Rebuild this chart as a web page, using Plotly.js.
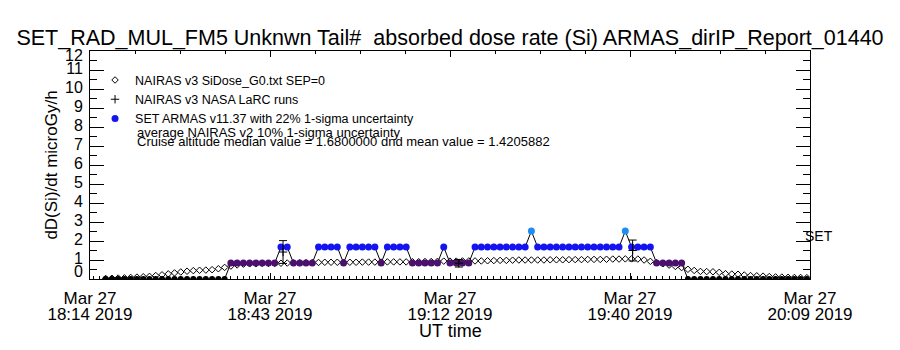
<!DOCTYPE html>
<html><head><meta charset="utf-8">
<script src="https://cdn.plot.ly/plotly-3.0.1.min.js"></script>
<style>html,body{margin:0;padding:0;background:#fff}#chart{width:900px;height:350px}</style>
</head><body><div id="chart"></div>
<script>
const day = "2019-03-27";

// Sample times (UT, HH:MM)
const sampleTimes = ("18:17 18:18 18:19 18:20 18:21 18:22 18:23 18:24 18:25 18:26 18:27 18:28 18:29 18:30 18:31 18:32 18:33 18:34 18:35 18:36 18:37 18:38 18:39 18:40 18:41 18:42 18:43 18:44 18:45 18:46 18:47 18:48 18:49 18:50 18:51 18:52 18:53 18:54 18:55 18:56 18:57 18:58 18:59 " +
  "19:00 19:01 19:02 19:03 19:04 19:05 19:06 19:07 19:08 19:09 19:10 19:11 19:12 19:13 19:14 19:15 19:16 19:17 19:18 19:19 19:20 19:21 19:22 19:23 19:24 19:25 19:26 19:27 19:28 19:29 " +
  "19:30 19:31 19:32 19:33 19:34 19:35 19:36 19:37 19:38 19:39 19:40 19:41 19:42 19:43 19:44 19:45 19:46 19:47 19:48 19:49 19:50 19:51 19:52 19:53 19:54 19:55 19:56 19:57 19:58 19:59 " +
  "20:00 20:01 20:02 20:03 20:04 20:05 20:06 20:07 20:08 20:09").split(" ");

// SET ARMAS v11.37 dose rate (microGy/h)
const armasValues = [
  0,0,0,0,0,0,0,0,0,0,0,0,0,0,0,0,0,0,0,0,
  0.84,0.84,0.84,0.84,0.84,0.84,0.84,0.84,
  1.68,1.68,
  0.84,0.84,0.84,0.84,
  1.68,1.68,1.68,1.68,
  0.84,
  1.68,1.68,1.68,1.68,1.68,
  0.84,
  1.68,1.68,1.68,1.68,
  0.84,0.84,0.84,0.84,0.84,
  1.68,
  0.84,0.84,0.84,0.84,
  1.68,1.68,1.68,1.68,1.68,1.68,1.68,1.68,1.68,
  2.52,
  1.68,1.68,1.68,1.68,1.68,1.68,1.68,1.68,1.68,1.68,1.68,1.68,1.68,1.68,
  2.52,
  1.68,1.68,1.68,1.68,
  0.84,0.84,0.84,0.84,0.84,
  0,0,0,0,0,0,0,0,0,0,0,0,0,0,0,0,0,0,0,0
];

// NAIRAS v3 SiDose_G0.txt SEP=0
const nairasValues = [
  0.03,0.04,0.05,0.06,0.08,0.10,0.12,0.14,0.18,0.22,0.27,0.32,0.37,0.41,0.44,0.46,0.47,0.49,0.54,0.61,
  0.68,0.74,0.78,0.80,0.80,0.82,0.82,0.82,
  0.83,0.84,0.85,0.85,0.86,0.86,
  0.87,0.88,0.88,0.88,
  0.88,
  0.88,0.88,0.89,0.89,0.89,
  0.89,
  0.90,0.90,0.90,0.90,
  0.91,0.91,0.92,0.92,0.93,
  0.94,
  0.94,0.94,0.95,0.95,
  0.95,0.95,0.96,0.97,0.98,0.98,0.99,1.00,1.00,
  1.00,1.00,1.00,1.01,1.01,1.01,1.02,1.02,1.02,1.03,1.03,1.03,1.04,1.05,1.05,
  1.06,1.06,1.05,1.00,0.93,
  0.86,0.80,0.73,0.66,0.60,
  0.51,0.45,0.40,0.39,0.38,0.35,0.28,0.26,0.25,0.21,0.18,0.17,0.15,0.13,0.11,0.10,0.09,0.08,0.08,0.07
];

// NAIRAS v3 NASA LaRC runs
const larcTimes = ["18:45:20", "19:13:25", "19:41:10"];
const larcValues = [1.42, 0.83, 1.50];
const larcErrors = [0.60, 0.20, 0.55];

// Axis ticks
const tickTimes = ["18:14:30", "18:43:15", "19:12:00", "19:40:45", "20:09:30"];
const tickDates = ["Mar 27", "Mar 27", "Mar 27", "Mar 27", "Mar 27"];
const tickClock = ["18:14 2019", "18:43 2019", "19:12 2019", "19:40 2019", "20:09 2019"];
const yTicks = [0, 1, 2, 3, 4, 5, 6, 7, 8, 9, 10, 11, 12];

const levelColors = {"0": "#000000", "0.84": "#4b0f6e", "1.68": "#1414f0", "2.52": "#1e8cf0"};

const full = t => day + " " + (t.length === 5 ? t + ":00" : t);
const xs = sampleTimes.map(full);
const xRange = [full(tickTimes[0]), full(tickTimes[tickTimes.length - 1])];
const tickVals = tickTimes.map(full);
const yMin = yTicks[0], yMax = yTicks[yTicks.length - 1];

const traces = [];
traces.push({
  x: xs, y: nairasValues, type: "scatter", mode: "markers",
  name: "NAIRAS v3 SiDose_G0.txt SEP=0", legendrank: 1,
  marker: {symbol: "diamond-open", size: 5, color: "#000", line: {width: 1, color: "#000"}}
});
traces.push({
  x: xs, y: armasValues, type: "scatter", mode: "lines",
  line: {color: "#000", width: 1}, showlegend: false, hoverinfo: "skip"
});
["0", "0.84", "2.52", "1.68"].forEach(lv => {
  const fx = [], fy = [];
  armasValues.forEach((v, i) => { if (String(v) === lv) { fx.push(xs[i]); fy.push(v); } });
  traces.push({
    x: fx, y: fy, type: "scatter", mode: "markers",
    name: "SET ARMAS v11.37 with 22% 1-sigma uncertainty",
    showlegend: lv === "1.68", legendrank: 3,
    marker: {symbol: "circle", size: lv === "0" ? 6 : 7, color: levelColors[lv]},
    cliponaxis: true
  });
});
traces.push({
  x: larcTimes.map(full), y: larcValues, type: "scatter", mode: "markers",
  name: "NAIRAS v3 NASA LaRC runs", legendrank: 2,
  marker: {symbol: "cross-thin-open", size: 6, color: "#000", line: {width: 1, color: "#000"}},
  error_y: {type: "data", array: larcErrors, visible: true, color: "#000", thickness: 1, width: 4}
});
["x2", "x3"].forEach(ax => traces.push({
  x: xRange, y: [null, null], xaxis: ax, type: "scatter", mode: "markers",
  showlegend: false, hoverinfo: "skip"
}));

const FONT = "Liberation Sans, Arial, sans-serif";
const layout = {
  width: 900, height: 350,
  margin: {l: 90, r: 90, t: 51, b: 71},
  paper_bgcolor: "#fff", plot_bgcolor: "#fff",
  font: {family: FONT, color: "#000", size: 16},
  title: {text: "SET_RAD_MUL_FM5 Unknwn Tail#\u00a0 absorbed dose rate (Si) ARMAS_dirIP_Report_01440",
          x: 0.5, xanchor: "center", xref: "container", y: 1 - 37 / 350, yref: "container", yanchor: "middle",
          font: {size: 21.5}},
  showlegend: true,
  legend: {x: 0.007, y: 0.937, xanchor: "left", yanchor: "top", bgcolor: "rgba(0,0,0,0)",
           font: {size: 12.5}, tracegroupgap: 0, itemwidth: 30},
  xaxis: {type: "date", range: xRange, tickmode: "array", tickvals: tickVals, ticktext: tickDates,
          ticks: "inside", ticklen: 6, tickcolor: "#000", showline: true, linecolor: "#000", linewidth: 1,
          mirror: false, showgrid: false, zeroline: false, tickfont: {size: 17}, ticklabelstandoff: 4,
          minor: {dtick: 60000, tick0: full("18:17"), ticks: "inside", ticklen: 3, tickcolor: "#000", showgrid: false}},
  xaxis3: {type: "date", overlaying: "x", side: "bottom", range: xRange, tickmode: "array", tickvals: tickVals,
           ticktext: tickClock, ticks: "", showline: false, showgrid: false, zeroline: false,
           tickfont: {size: 17}, ticklabelstandoff: 23},
  xaxis2: {type: "date", overlaying: "x", side: "top", range: xRange, tickmode: "array", tickvals: tickVals,
           ticks: "inside", ticklen: 6, tickcolor: "#000", showticklabels: false, showline: true, linecolor: "#000",
           showgrid: false, zeroline: false,
           minor: {dtick: 431250, tick0: full(tickTimes[0]), ticks: "inside", ticklen: 3, tickcolor: "#000", showgrid: false}},
  yaxis: {range: [yMin, yMax], tickmode: "array", tickvals: yTicks,
          ticktext: yTicks.map(v => (v === yMin || v === yMax) ? "" : String(v)),
          ticks: "inside", ticklen: 14, tickcolor: "#000",
          showline: true, linecolor: "#000", linewidth: 1, mirror: "ticks", showgrid: false, zeroline: false,
          tickfont: {size: 16}, ticklabelstandoff: 3, ticklabelshift: -2,
          title: {text: "dD(Si)/dt microGy/h", font: {size: 17}, standoff: 3},
          minor: {dtick: 0.5, ticks: "inside", ticklen: 7, tickcolor: "#000", showgrid: false}},
  annotations: [
    {text: String(yMax), xref: "paper", yref: "y", x: -5 / 720, y: yMax - 0.25, xanchor: "right", yanchor: "middle",
     showarrow: false, font: {size: 16}},
    {text: String(yMin), xref: "paper", yref: "y", x: -5 / 720, y: yMin + 0.37, xanchor: "right", yanchor: "middle",
     showarrow: false, font: {size: 16}},
    {text: "UT time", xref: "paper", yref: "paper", x: 0.5, y: (279 - 331) / 228, xanchor: "center", yanchor: "middle",
     showarrow: false, font: {size: 18}},
    {text: "average NAIRAS v2 10% 1-sigma uncertainty", xref: "paper", yref: "paper",
     x: (135 - 90) / 720, y: (279 - 132) / 228, xanchor: "left", yanchor: "middle", showarrow: false, font: {size: 13}},
    {text: "Cruise altitude median value = 1.6800000 dnd mean value = 1.4205882", xref: "paper", yref: "paper",
     x: (135 - 90) / 720, y: (279 - 141) / 228, xanchor: "left", yanchor: "middle", showarrow: false, font: {size: 13}},
    {text: "SET", xref: "paper", yref: "y", x: (803 - 90) / 720, y: 2.25, xanchor: "left", yanchor: "middle",
     showarrow: false, font: {size: 14}}
  ]
};

Plotly.newPlot("chart", traces, layout, {displayModeBar: false, staticPlot: true});
</script>
</body></html>
